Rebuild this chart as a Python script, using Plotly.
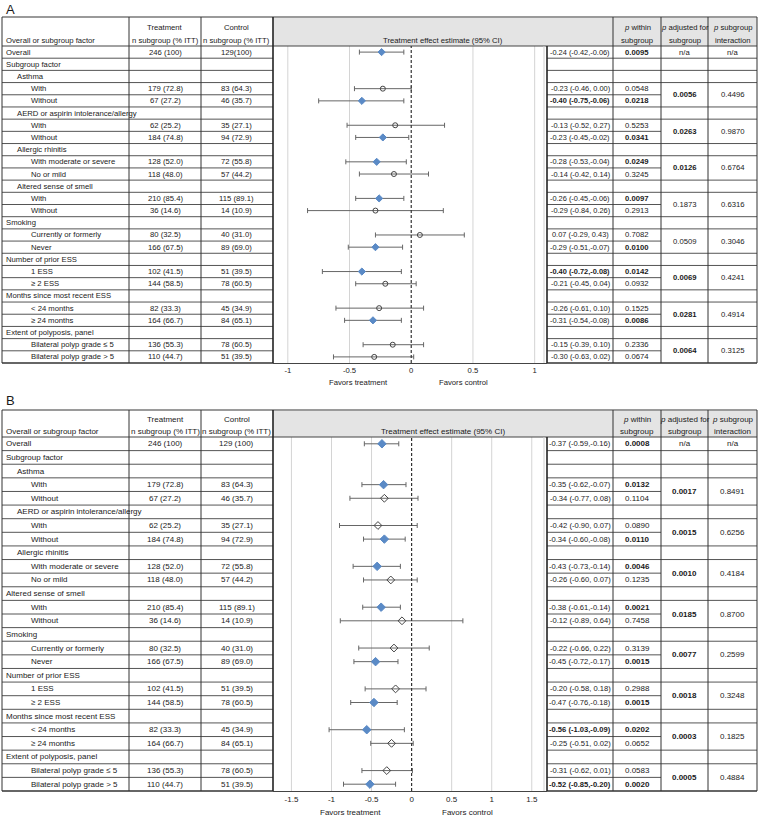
import plotly.graph_objects as go

W, H = 759, 821

# ---------------- data ----------------
row_labels = ["Overall", "Subgroup factor", "Asthma", "With", "Without",
              "AERD or aspirin intolerance/allergy", "With", "Without",
              "Allergic rhinitis", "With moderate or severe", "No or mild",
              "Altered sense of smell", "With", "Without",
              "Smoking", "Currently or formerly", "Never",
              "Number of prior ESS", "1 ESS", "≥ 2 ESS",
              "Months since most recent ESS", "&lt; 24 months", "≥ 24 months",
              "Extent of polyposis, panel", "Bilateral polyp grade ≤ 5", "Bilateral polyp grade &gt; 5"]
levels_A = [0, 0, 1, 2, 2, 1, 2, 2, 1, 2, 2, 1, 2, 2, 0, 2, 2, 0, 2, 2, 0, 2, 2, 0, 2, 2]
levels_B = [0, 0, 1, 2, 2, 1, 2, 2, 1, 2, 2, 0, 2, 2, 0, 2, 2, 0, 2, 2, 0, 2, 2, 0, 2, 2]

trt_n = ["246 (100)", "", "", "179 (72.8)", "67 (27.2)", "", "62 (25.2)", "184 (74.8)",
         "", "128 (52.0)", "118 (48.0)", "", "210 (85.4)", "36 (14.6)", "", "80 (32.5)",
         "166 (67.5)", "", "102 (41.5)", "144 (58.5)", "", "82 (33.3)", "164 (66.7)",
         "", "136 (55.3)", "110 (44.7)"]
ctrl_n_A = ["129(100)", "", "", "83 (64.3)", "46 (35.7)", "", "35 (27.1)", "94 (72.9)",
            "", "72 (55.8)", "57 (44.2)", "", "115 (89.1)", "14 (10.9)", "", "40 (31.0)",
            "89 (69.0)", "", "51 (39.5)", "78 (60.5)", "", "45 (34.9)", "84 (65.1)",
            "", "78 (60.5)", "51 (39.5)"]
ctrl_n_B = ["129 (100)"] + ctrl_n_A[1:]

est_rows = [0, 3, 4, 6, 7, 9, 10, 12, 13, 15, 16, 18, 19, 21, 22, 24, 25]
pair_rows = [3, 6, 9, 12, 15, 18, 21, 24]

A_est = [-0.24, -0.23, -0.40, -0.13, -0.23, -0.28, -0.14, -0.26, -0.29, 0.07, -0.29, -0.40, -0.21, -0.26, -0.31, -0.15, -0.30]
A_lo = [-0.42, -0.46, -0.75, -0.52, -0.45, -0.53, -0.42, -0.45, -0.84, -0.29, -0.51, -0.72, -0.45, -0.61, -0.54, -0.39, -0.63]
A_hi = [-0.06, 0.00, -0.06, 0.27, -0.02, -0.04, 0.14, -0.06, 0.26, 0.43, -0.07, -0.08, 0.04, 0.10, -0.08, 0.10, 0.02]
A_p = ["0.0095", "0.0548", "0.0218", "0.5253", "0.0341", "0.0249", "0.3245", "0.0097", "0.2913",
       "0.7082", "0.0100", "0.0142", "0.0932", "0.1525", "0.0086", "0.2336", "0.0674"]
A_padj = ["0.0056", "0.0263", "0.0126", "0.1873", "0.0509", "0.0069", "0.0281", "0.0064"]
A_pint = ["0.4496", "0.9870", "0.6764", "0.6316", "0.3046", "0.4241", "0.4914", "0.3125"]
A_bold_est = [2, 11]

B_est = [-0.37, -0.35, -0.34, -0.42, -0.34, -0.43, -0.26, -0.38, -0.12, -0.22, -0.45, -0.20, -0.47, -0.56, -0.25, -0.31, -0.52]
B_lo = [-0.59, -0.62, -0.77, -0.90, -0.60, -0.73, -0.60, -0.61, -0.89, -0.66, -0.72, -0.58, -0.76, -1.03, -0.51, -0.62, -0.85]
B_hi = [-0.16, -0.07, 0.08, 0.07, -0.08, -0.14, 0.07, -0.14, 0.64, 0.22, -0.17, 0.18, -0.18, -0.09, 0.02, 0.01, -0.20]
B_p = ["0.0008", "0.0132", "0.1104", "0.0890", "0.0110", "0.0046", "0.1235", "0.0021", "0.7458",
       "0.3139", "0.0015", "0.2988", "0.0015", "0.0202", "0.0652", "0.0583", "0.0020"]
B_padj = ["0.0017", "0.0015", "0.0010", "0.0185", "0.0077", "0.0018", "0.0003", "0.0005"]
B_pint = ["0.8491", "0.6256", "0.4184", "0.8700", "0.2599", "0.3248", "0.1825", "0.4884"]
B_bold_est = [13, 16]

ticks_A = [-1, -0.5, 0, 0.5, 1]
ticks_B = [-1.5, -1, -0.5, 0, 0.5, 1, 1.5]

# ---------------- layout helpers ----------------
FONT = "Liberation Sans, Arial, sans-serif"
TXT = "#1a1a1a"
BLUE = "#5a8ac6"


def px(x):
    return x / W


def py(y):
    return 1 - y / H


COLX = [2, 129, 201, 273, 547, 613, 661, 708, 757]

fig = go.Figure()
shapes = []
annots = []


def line(x0, y0, x1, y1, color="#333", width=1):
    shapes.append(dict(type="line", xref="paper", yref="paper", x0=px(x0), y0=py(y0), x1=px(x1), y1=py(y1),
                       line=dict(color=color, width=width), layer="above"))


def text(x, y, s, size=8.0, anchor="center", color=TXT):
    annots.append(dict(xref="paper", yref="paper", x=px(x), y=py(y), text=s, showarrow=False,
                       xanchor=anchor, yanchor="middle", font=dict(family=FONT, size=size, color=color)))


def fmt_ci(e, l, h):
    return f"{e:.2f} ({l:.2f},{h:5.2f})"


def panel(tag, top, hb, bottom, levels, ctrl_n, est, lo, hi, pw, padj, pint, bold_est,
          xa, ya, xrange, ticks, fs, fs_est, label_y, msize):
    n = len(row_labels)
    rh = (bottom - hb) / n
    shapes.append(dict(type="rect", xref="paper", yref="paper", x0=px(273), x1=px(757),
                       y0=py(hb), y1=py(top), fillcolor="#e4e4e4", line=dict(width=0), layer="below"))
    line(COLX[0], top, COLX[-1], top, color="#9a9a9a", width=2)
    line(COLX[0], hb, COLX[-1], hb, color="#444", width=1)
    for k in range(1, n + 1):
        y = hb + k * rh
        c = "#333" if k == n else "#555"
        wdt = 1.3 if k == n else 1
        line(COLX[0], y, COLX[3], y, color=c, width=wdt)
        line(COLX[4], y, COLX[6], y, color=c, width=wdt)
        if (k - 1) not in pair_rows:
            line(COLX[6], y, COLX[8], y, color=c, width=wdt)
    for x in [COLX[0], COLX[1], COLX[2], COLX[5], COLX[6], COLX[7], COLX[8]]:
        line(x, top, x, bottom, color="#333", width=1)
    line(COLX[3], top, COLX[3], bottom, color="#222", width=1.6)
    line(COLX[4], hb, COLX[4], bottom, color="#222", width=1.6)
    line(COLX[4] - 3, hb, COLX[4] - 3, bottom, color="#cfcfcf", width=1)

    l1 = top + (hb - top) * 0.36
    l2 = top + (hb - top) * 0.80
    text(4, l2, "Overall or subgroup factor", fs, "left")
    text(165, l1, "Treatment", fs)
    text(165, l2, "n subgroup (% ITT)", fs)
    text(237, l1, "Control", fs)
    text(237, l2, "n subgroup (% ITT)", fs)
    text(443, l2, "Treatment effect estimate (95% CI)", fs)
    text(637, l1, "<i>p</i> within", fs)
    text(637, l2, "subgroup", fs)
    text(684.5, l1, "<i>p</i> adjusted for", fs)
    text(684.5, l2, "subgroup", fs)
    text(732.5, l1, "<i>p</i> subgroup", fs)
    text(732.5, l2, "interaction", fs)

    indent = {0: 4, 1: 15, 2: 29}
    for i, lab in enumerate(row_labels):
        yc = hb + (i + 0.5) * rh
        text(indent[levels[i]], yc, lab, fs, "left")
        if trt_n[i]:
            text(165, yc, trt_n[i], fs)
            text(237, yc, ctrl_n[i], fs)

    for j, r in enumerate(est_rows):
        yc = hb + (r + 0.5) * rh
        s = fmt_ci(est[j], lo[j], hi[j])
        if j in bold_est:
            s = f"<b>{s}</b>"
        text(580, yc, s, fs_est)
        p = pw[j]
        text(637, yc, f"<b>{p}</b>" if float(p) < 0.05 else p, fs)
    yc0 = hb + 0.5 * rh
    text(684.5, yc0, "n/a", fs)
    text(732.5, yc0, "n/a", fs)
    for j, r in enumerate(pair_rows):
        yc = hb + (r + 1) * rh
        p = padj[j]
        text(684.5, yc, f"<b>{p}</b>" if float(p) < 0.05 else p, fs)
        text(732.5, yc, pint[j], fs)

    text(4, label_y, tag, 13, "left")

    sig = [j for j in range(len(est)) if float(pw[j]) < 0.05]
    non = [j for j in range(len(est)) if float(pw[j]) >= 0.05]
    for idx, filled in [(non, False), (sig, True)]:
        fig.add_trace(go.Scatter(
            x=[est[j] for j in idx], y=[est_rows[j] for j in idx], mode="markers",
            xaxis=xa, yaxis=ya, showlegend=False,
            marker=dict(symbol="diamond" if filled else ("diamond-open" if tag == "B" else "circle-open"),
                        size=(msize if filled else msize - 0.5), color=BLUE if filled else "#444",
                        line=dict(width=1, color=BLUE if filled else "#444")),
            error_x=dict(type="data", symmetric=False,
                         array=[round(hi[j] - est[j], 4) for j in idx],
                         arrayminus=[round(est[j] - lo[j], 4) for j in idx],
                         color="#666", thickness=1, width=2.5)))
    yref = ya + " domain"
    for t in ticks:
        if t == 0:
            shapes.append(dict(type="line", xref=xa, yref=yref, x0=0, x1=0, y0=0, y1=1,
                               line=dict(color="#333", width=1.2, dash="3px,2px"), layer="above"))
        else:
            shapes.append(dict(type="line", xref=xa, yref=yref, x0=t, x1=t, y0=0, y1=1,
                               line=dict(color="#d4d4d4", width=1), layer="below"))

    axis_name = "xaxis" if xa == "x" else "xaxis" + xa[1:]
    yaxis_name = "yaxis" if ya == "y" else "yaxis" + ya[1:]
    fig.update_layout(**{
        axis_name: dict(domain=[px(273), px(547)], range=xrange, anchor=ya,
                        tickvals=ticks, ticktext=[("%g" % t) for t in ticks],
                        showgrid=False, zeroline=False, showline=True, linecolor="#444", linewidth=1.3,
                        ticks="", tickfont=dict(family=FONT, size=fs, color=TXT)),
        yaxis_name: dict(domain=[py(bottom), py(hb)], range=[n - 0.5, -0.5], anchor=xa,
                         visible=False, showgrid=False, zeroline=False),
    })


# Panel A
panel("A", 17, 46, 363, levels_A, ctrl_n_A, A_est, A_lo, A_hi, A_p, A_padj, A_pint, A_bold_est,
      "x", "y", [-1.12, 1.10], ticks_A, 7.7, 7.4, 9, 5.5)
text(358, 382, "Favors treatment", 7.7)
text(464, 382, "Favors control", 7.7)

# Panel B
panel("B", 410, 437, 791, levels_B, ctrl_n_B, B_est, B_lo, B_hi, B_p, B_padj, B_pint, B_bold_est,
      "x2", "y2", [-1.73, 1.69], ticks_B, 8.0, 7.6, 401, 6.5)
text(350, 812, "Favors treatment", 8.0)
text(467, 812, "Favors control", 8.0)

fig.update_layout(width=W, height=H, margin=dict(l=0, r=0, t=0, b=0),
                  paper_bgcolor="white", plot_bgcolor="rgba(0,0,0,0)",
                  shapes=shapes, annotations=annots, showlegend=False)

fig.write_html("out.html", config={"displayModeBar": False},
               post_script="document.body.style.margin='0';")
